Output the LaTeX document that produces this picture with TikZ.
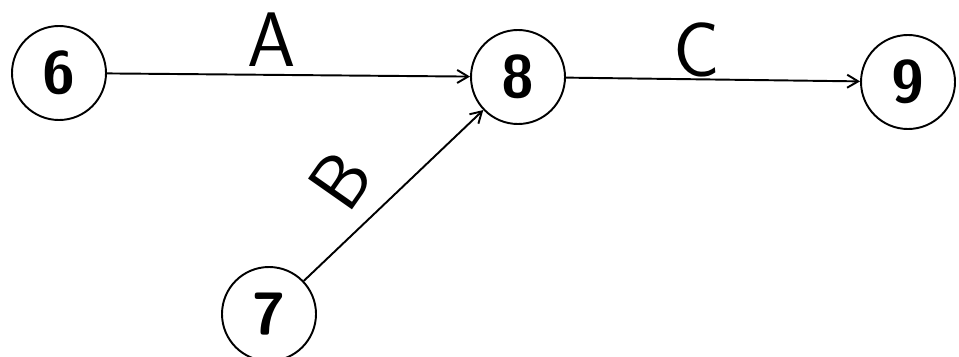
\documentclass[tikz,border=0pt]{standalone}
\usepackage{tikz}
\usetikzlibrary{arrows.meta}

\begin{document}
\begin{tikzpicture}[
    event/.style={draw, circle, line width=1.1pt, minimum size=1.88cm, inner sep=0pt,
        font=\sffamily\bfseries\fontsize{34}{34}\selectfont},
    lbl/.style={font=\sffamily\fontsize{44}{44}\selectfont, inner sep=0pt},
    arrow/.style={-{Straight Barb[length=2.2mm, width=2.6mm]}, line width=1.1pt}
]
\useasboundingbox (0,0) rectangle (19.18,7.12);
\node[event] (six) at (1.18,5.66) {6};
\node[event] (eight) at (10.36,5.58) {8};
\node[event] (nine) at (18.16,5.48) {9};
\node[event] (seven) at (5.38,0.84) {7};
\draw[arrow] (six) -- (eight);
\draw[arrow] (eight) -- (nine);
\draw[arrow] (seven) -- (eight);
\node[lbl] (la) at (5.44,6.32) {A};
\node[lbl] (lc) at (13.94,6.12) {C};
\node[lbl, rotate=55] (lb) at (6.8,3.52) {B};
\end{tikzpicture}
\end{document}
